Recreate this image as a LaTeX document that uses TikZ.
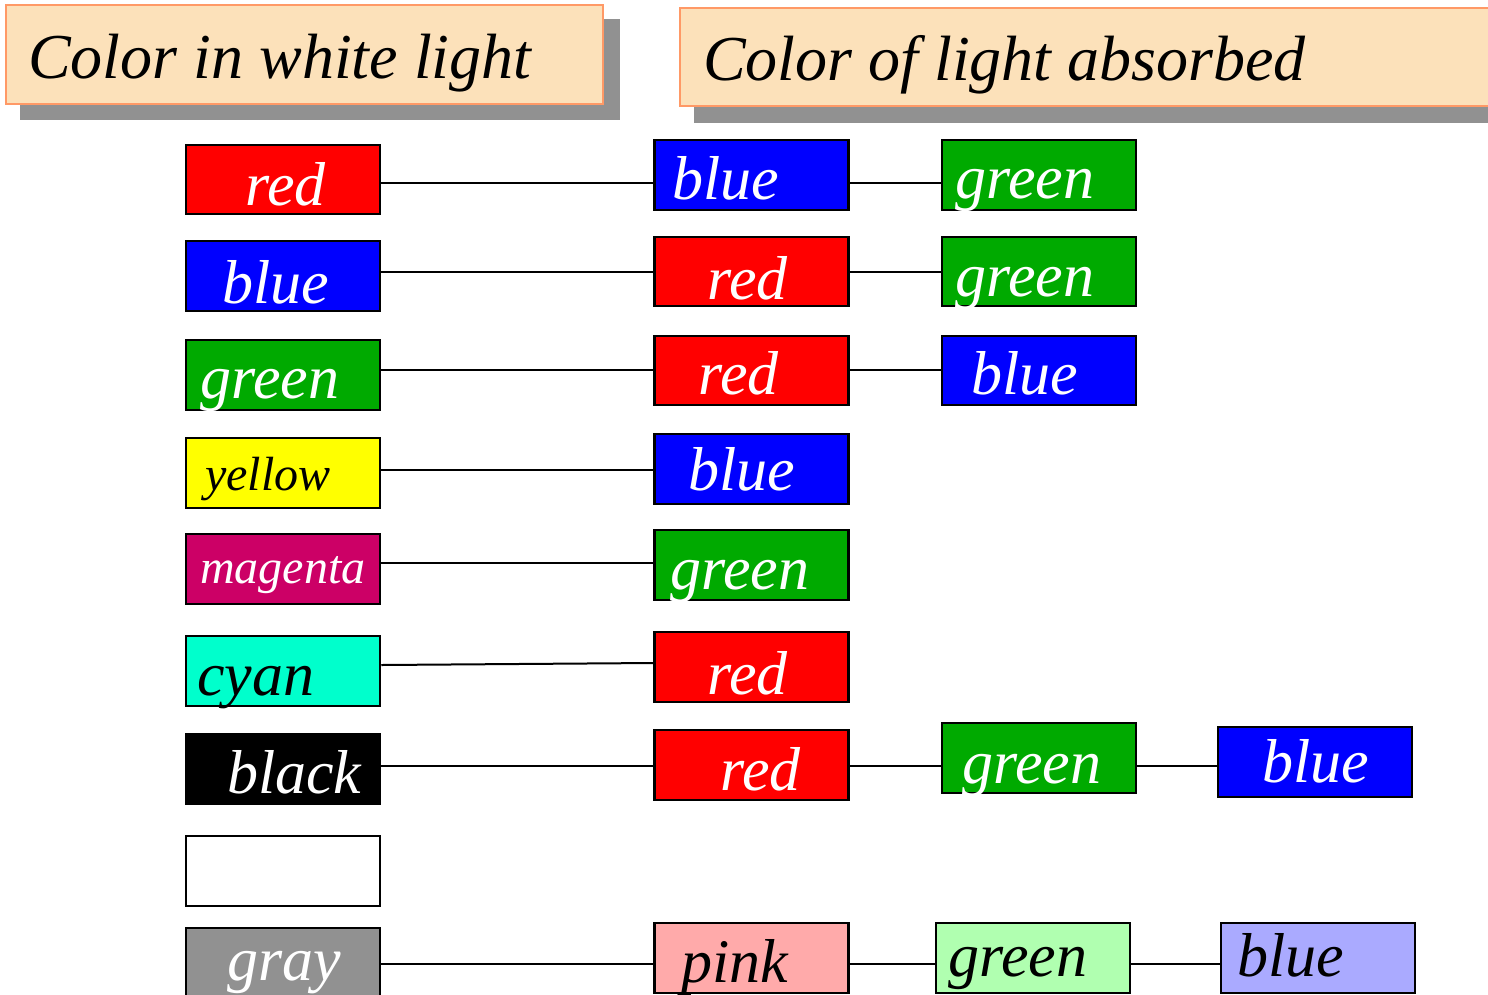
\documentclass[tikz,border=0pt]{standalone}
\usepackage{fontspec}
\setmainfont{Liberation Serif}[ItalicFont={Liberation Serif Italic}]
\definecolor{cRed}{HTML}{FF0000}
\definecolor{cBlue}{HTML}{0000FF}
\definecolor{cGreen}{HTML}{00AA00}
\definecolor{cYellow}{HTML}{FFFF00}
\definecolor{cMagenta}{HTML}{CC0066}
\definecolor{cCyan}{HTML}{00FFCC}
\definecolor{cGray}{HTML}{919191}
\definecolor{cPink}{HTML}{FFAAAA}
\definecolor{cLGreen}{HTML}{B0FFB0}
\definecolor{cLBlue}{HTML}{AAAAFF}
\definecolor{hdrFill}{HTML}{FCE1BA}
\definecolor{hdrLine}{HTML}{FF9966}
\definecolor{shadowGray}{HTML}{919191}
\newcommand{\BigTxt}{\fontsize{62}{62}\selectfont\itshape}
\newcommand{\MidTxt}{\fontsize{48}{48}\selectfont\itshape}
\newcommand{\HdrTxt}{\fontsize{64}{64}\selectfont\itshape}
\tikzset{
  cbox/.style={draw=black, line width=2.5pt, minimum width=194pt, minimum height=70pt, inner sep=0pt},
  ctext/.style={anchor=base west, inner sep=0pt, font=\BigTxt},
  mtext/.style={anchor=base west, inner sep=0pt, font=\MidTxt},
  hdr/.style={draw=hdrLine, fill=hdrFill, line width=2.5pt, inner sep=0pt},
  htext/.style={anchor=base west, inner sep=0pt, font=\HdrTxt},
  shadowbox/.style={fill=shadowGray},
  conn/.style={draw=black, line width=2pt}
}
\begin{document}
\begin{tikzpicture}[x=1pt,y=-1pt]
\useasboundingbox (0,0) rectangle (1488,994);
\clip (0,0) rectangle (1488,994);
% headers
\fill[shadowbox] (20,19) rectangle (620,120);
\node[hdr, minimum width=597pt, minimum height=99pt] (H1) at (304.5,54.5) {};
\node[htext] (H1t) at (28,78) {Color in white light};
\fill[shadowbox] (694,21) rectangle (1500,123);
\node[hdr, minimum width=820pt, minimum height=98pt] (H2) at (1090,57) {};
\node[htext] (H2t) at (703,80) {Color of light absorbed};
% left column
\node[cbox, fill=cRed, minimum height=69pt] (L1) at (283,179.5) {};
\node[cbox, fill=cBlue] (L2) at (283,276) {};
\node[cbox, fill=cGreen] (L3) at (283,375) {};
\node[cbox, fill=cYellow] (L4) at (283,473) {};
\node[cbox, fill=cMagenta] (L5) at (283,569) {};
\node[cbox, fill=cCyan] (L6) at (283,671) {};
\node[cbox, fill=black] (L7) at (283,769) {};
\node[cbox, fill=white] (L8) at (283,871) {};
\node[cbox, fill=cGray] (L9) at (283,963) {};
% middle column
\node[cbox, fill=cBlue] (M1) at (751.5,175) {};
\node[cbox, fill=cRed, minimum height=69pt] (M2) at (751.5,271.5) {};
\node[cbox, fill=cRed, minimum height=69pt] (M3) at (751.5,370.5) {};
\node[cbox, fill=cBlue] (M4) at (751.5,469) {};
\node[cbox, fill=cGreen] (M5) at (751.5,565) {};
\node[cbox, fill=cRed] (M6) at (751.5,667) {};
\node[cbox, fill=cRed] (M7) at (751.5,765) {};
\node[cbox, fill=cPink] (M9) at (751.5,958) {};
% third column
\node[cbox, fill=cGreen] (R1) at (1039,175) {};
\node[cbox, fill=cGreen, minimum height=69pt] (R2) at (1039,271.5) {};
\node[cbox, fill=cBlue, minimum height=69pt] (R3) at (1039,370.5) {};
\node[cbox, fill=cGreen] (R7) at (1039,758) {};
\node[cbox, fill=cLGreen] (R9) at (1033,958) {};
% fourth column
\node[cbox, fill=cBlue] (S7) at (1315,762) {};
\node[cbox, fill=cLBlue] (S9) at (1318,958) {};
% connectors
\draw[conn] ([yshift=-3.5pt]L1.east) -- ([yshift=-8pt]M1.west);
\draw[conn] ([yshift=-8pt]M1.east) -- ([yshift=-8pt]R1.west);
\draw[conn] ([yshift=4pt]L2.east) -- ([yshift=-0.5pt]M2.west);
\draw[conn] ([yshift=-0.5pt]M2.east) -- ([yshift=-0.5pt]R2.west);
\draw[conn] ([yshift=5pt]L3.east) -- ([yshift=0.5pt]M3.west);
\draw[conn] ([yshift=0.5pt]M3.east) -- ([yshift=0.5pt]R3.west);
\draw[conn] ([yshift=3pt]L4.east) -- ([yshift=-1pt]M4.west);
\draw[conn] ([yshift=6pt]L5.east) -- ([yshift=2pt]M5.west);
\draw[conn] ([yshift=6pt]L6.east) -- ([yshift=4pt]M6.west);
\draw[conn] ([yshift=3pt]L7.east) -- ([yshift=-1pt]M7.west);
\draw[conn] ([yshift=-1pt]M7.east) -- ([yshift=-8pt]R7.west);
\draw[conn] ([yshift=-8pt]R7.east) -- ([yshift=-4pt]S7.west);
\draw[conn] ([yshift=-1pt]L9.east) -- ([yshift=-6pt]M9.west);
\draw[conn] ([yshift=-6pt]M9.east) -- ([yshift=-6pt]R9.west);
\draw[conn] ([yshift=-6pt]R9.east) -- ([yshift=-6pt]S9.west);
% texts left
\node[ctext, text=white] (L1t) at (245,205) {red};
\node[ctext, text=white] (L2t) at (222,303) {blue};
\node[ctext, text=white] (L3t) at (200,398) {green};
\node[mtext, text=black] (L4t) at (205,490) {yellow};
\node[mtext, text=white] (L5t) at (200,583) {magenta};
\node[ctext, text=black] (L6t) at (197,695) {cyan};
\node[ctext, text=white] (L7t) at (227,793) {black};
\node[ctext, text=white] (L9t) at (227,980) {gray};
% texts middle
\node[ctext, text=white] (M1t) at (672,199) {blue};
\node[ctext, text=white] (M2t) at (707,299) {red};
\node[ctext, text=white] (M3t) at (698,394) {red};
\node[ctext, text=white] (M4t) at (688,490) {blue};
\node[ctext, text=white] (M5t) at (670,589) {green};
\node[ctext, text=white] (M6t) at (707,694) {red};
\node[ctext, text=white] (M7t) at (720,790) {red};
\node[ctext, text=black] (M9t) at (681,982) {pink};
% texts third
\node[ctext, text=white] (R1t) at (955,198) {green};
\node[ctext, text=white] (R2t) at (955,296) {green};
\node[ctext, text=white] (R3t) at (971,394) {blue};
\node[ctext, text=white] (R7t) at (962,783) {green};
\node[ctext, text=black] (R9t) at (948,976) {green};
% texts fourth
\node[ctext, text=white] (S7t) at (1262,782) {blue};
\node[ctext, text=black] (S9t) at (1237,976) {blue};
\end{tikzpicture}
\end{document}
